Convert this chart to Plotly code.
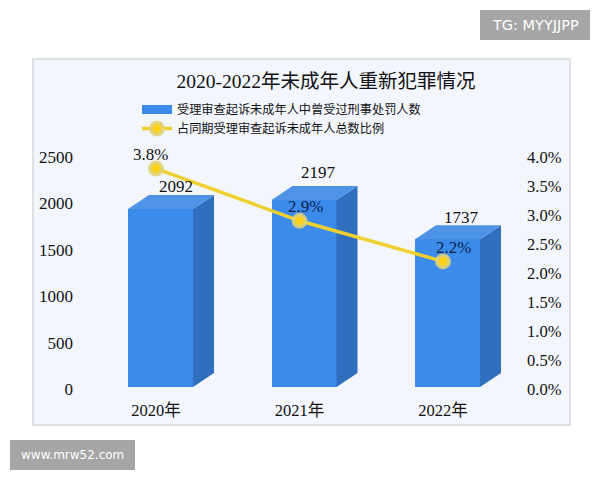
import plotly.graph_objects as go

years = [2020, 2021, 2022]
year_labels = ["2020年", "2021年", "2022年"]
counts = [2092, 2197, 1737]
ratios = [3.8, 2.9, 2.2]
ratio_labels = ["3.8%", "2.9%", "2.2%"]
left_ticks = [0, 500, 1000, 1500, 2000, 2500]
right_ticks = [0, 0.5, 1, 1.5, 2, 2.5, 3, 3.5, 4]
right_tick_labels = ["0.0%", "0.5%", "1.0%", "1.5%", "2.0%", "2.5%", "3.0%", "3.5%", "4.0%"]
bar_name = "受理审查起诉未成年人中曾受过刑事处罚人数"
line_name = "占同期受理审查起诉未成年人总数比例"
title = "2020-2022年未成年人重新犯罪情况"

W, H = 600, 480
PL, PR, PT, PB = 80, 520, 157, 389      # plot area in pixels
X0, DXPX = 156, 143.5                   # pixel of first category, pixels per category
SCALE = 0.0851                          # bar pixels per count
BASE = 387

FONT = "Liberation Serif, Noto Sans CJK SC, serif"
FRONT, TOP, SIDE = "#3A8BEA", "#4F93E6", "#2F6FBE"

x_range = [2020 + (PL - X0) / DXPX, 2020 + (PR - X0) / DXPX]
bar_range = [(BASE - PB) / SCALE, (BASE - PT) / SCALE]
bar_w = 65 / DXPX
bar_off = (128 - X0) / DXPX
dx = 21 / DXPX
dy = 14 / SCALE

fig = go.Figure()
for yr, v in zip(years, counts):
    l = yr + bar_off
    r = l + bar_w
    fig.add_trace(go.Scatter(x=[r, r + dx, r + dx, r, r], y=[0, dy, v + dy, v, 0], fill="toself",
                             fillcolor=SIDE, mode="lines", line=dict(width=0), showlegend=False,
                             hoverinfo="skip", xaxis="x", yaxis="y"))
    fig.add_trace(go.Scatter(x=[l, r, r + dx, l + dx, l], y=[v, v, v + dy, v + dy, v], fill="toself",
                             fillcolor=TOP, mode="lines", line=dict(width=0), showlegend=False,
                             hoverinfo="skip", xaxis="x", yaxis="y"))
fig.add_trace(go.Bar(x=years, y=counts, width=bar_w, offset=bar_off, name=bar_name, showlegend=False,
                     marker=dict(color=FRONT, line=dict(width=0)), xaxis="x", yaxis="y"))
# legend entry for the bars: a wide flat swatch
fig.add_trace(go.Scatter(x=[None], y=[None], name=bar_name, mode="lines",
                         line=dict(color=FRONT, width=9), xaxis="x", yaxis="y"))
fig.add_trace(go.Scatter(x=years, y=ratios, name=line_name, mode="lines+markers",
                         line=dict(color="#F0D030", width=3.5),
                         marker=dict(color="#FFD21A", size=12,
                                     line=dict(color="rgba(222,210,120,0.85)", width=4)),
                         xaxis="x", yaxis="y2"))
fig.add_trace(go.Scatter(x=[years[0], years[0]], y=[left_ticks[0], left_ticks[-1]], mode="lines",
                         line=dict(width=0), showlegend=False, hoverinfo="skip",
                         xaxis="x", yaxis="y3"))

dom_y = [1 - PB / H, 1 - PT / H]
fig.update_layout(
    width=W, height=H, margin=dict(l=0, r=0, t=0, b=0, autoexpand=False),
    paper_bgcolor="white", plot_bgcolor="rgba(0,0,0,0)",
    font=dict(family=FONT, size=16, color="#111111"),
    title=dict(text=title, x=326 / W, xanchor="center", y=1 - 81 / H, yanchor="middle",
               font=dict(size=19.5, family=FONT, color="#111111")),
    xaxis=dict(domain=[PL / W, PR / W], range=x_range, tickvals=years, ticktext=year_labels,
               showgrid=False, zeroline=False, showline=False, ticklen=0,
               tickfont=dict(size=16.5), ticklabelstandoff=9),
    yaxis=dict(domain=dom_y, range=bar_range, visible=False),
    yaxis2=dict(domain=dom_y, range=[0, 4], overlaying="y", side="right", anchor="x",
                tickvals=right_ticks, ticktext=right_tick_labels, showgrid=False, zeroline=False,
                ticklen=0, tickfont=dict(size=16.5), ticklabelstandoff=6),
    yaxis3=dict(domain=dom_y, range=[0, 2500], overlaying="y", side="left", anchor="x",
                tickvals=left_ticks, showgrid=False, zeroline=False, ticklen=0,
                tickformat="d", tickfont=dict(size=17), ticklabelstandoff=6),
    legend=dict(x=137 / W, y=1 - 95 / H, xanchor="left", yanchor="top", bgcolor="rgba(0,0,0,0)",
                font=dict(size=12.2, family=FONT), itemwidth=30, tracegroupgap=2,
                traceorder="normal"),
    bargap=0,
    shapes=[
        dict(type="rect", xref="paper", yref="paper", layer="below",
             x0=33 / W, x1=570 / W, y0=1 - 425 / H, y1=1 - 59 / H,
             fillcolor="#F3F7FD", line=dict(color="#DDE0E4", width=2)),
        dict(type="rect", xref="paper", yref="paper", layer="below",
             x0=480 / W, x1=590 / W, y0=1 - 40 / H, y1=1 - 10 / H,
             fillcolor="#A6A6A6", line=dict(width=0)),
        dict(type="rect", xref="paper", yref="paper", layer="below",
             x0=10 / W, x1=135 / W, y0=1 - 470 / H, y1=1 - 440 / H,
             fillcolor="#A6A6A6", line=dict(width=0)),
    ],
)

ann = []
bar_shift = [(20, 8), (19, 14), (18, 8)]
for yr, v, (sx, sy) in zip(years, counts, bar_shift):
    ann.append(dict(x=yr, y=v + dy, xref="x", yref="y", text=str(v), showarrow=False,
                    xshift=sx, yshift=sy, yanchor="middle", font=dict(size=17)))
ratio_shift = [(-6, 14), (6, 14), (10, 14)]
for yr, r, lab, (sx, sy) in zip(years, ratios, ratio_labels, ratio_shift):
    ann.append(dict(x=yr, y=r, xref="x", yref="y2", text=lab, showarrow=False,
                    xshift=sx, yshift=sy, font=dict(size=17, color="#0B1F4A" if yr > 2020 else "#111111")))
ann.append(dict(x=535 / W, y=1 - 25 / H, xref="paper", yref="paper", text="TG: MYYJJPP", showarrow=False,
                xanchor="center", yanchor="middle",
                font=dict(family="DejaVu Sans", size=14.5, color="white")))
ann.append(dict(x=72.5 / W, y=1 - 455 / H, xref="paper", yref="paper", text="www.mrw52.com", showarrow=False,
                xanchor="center", yanchor="middle",
                font=dict(family="DejaVu Sans", size=12, color="white")))
fig.update_layout(annotations=ann)

fig.write_html("out.html", config={"displayModeBar": False},
               post_script="document.body.style.margin='0';")
